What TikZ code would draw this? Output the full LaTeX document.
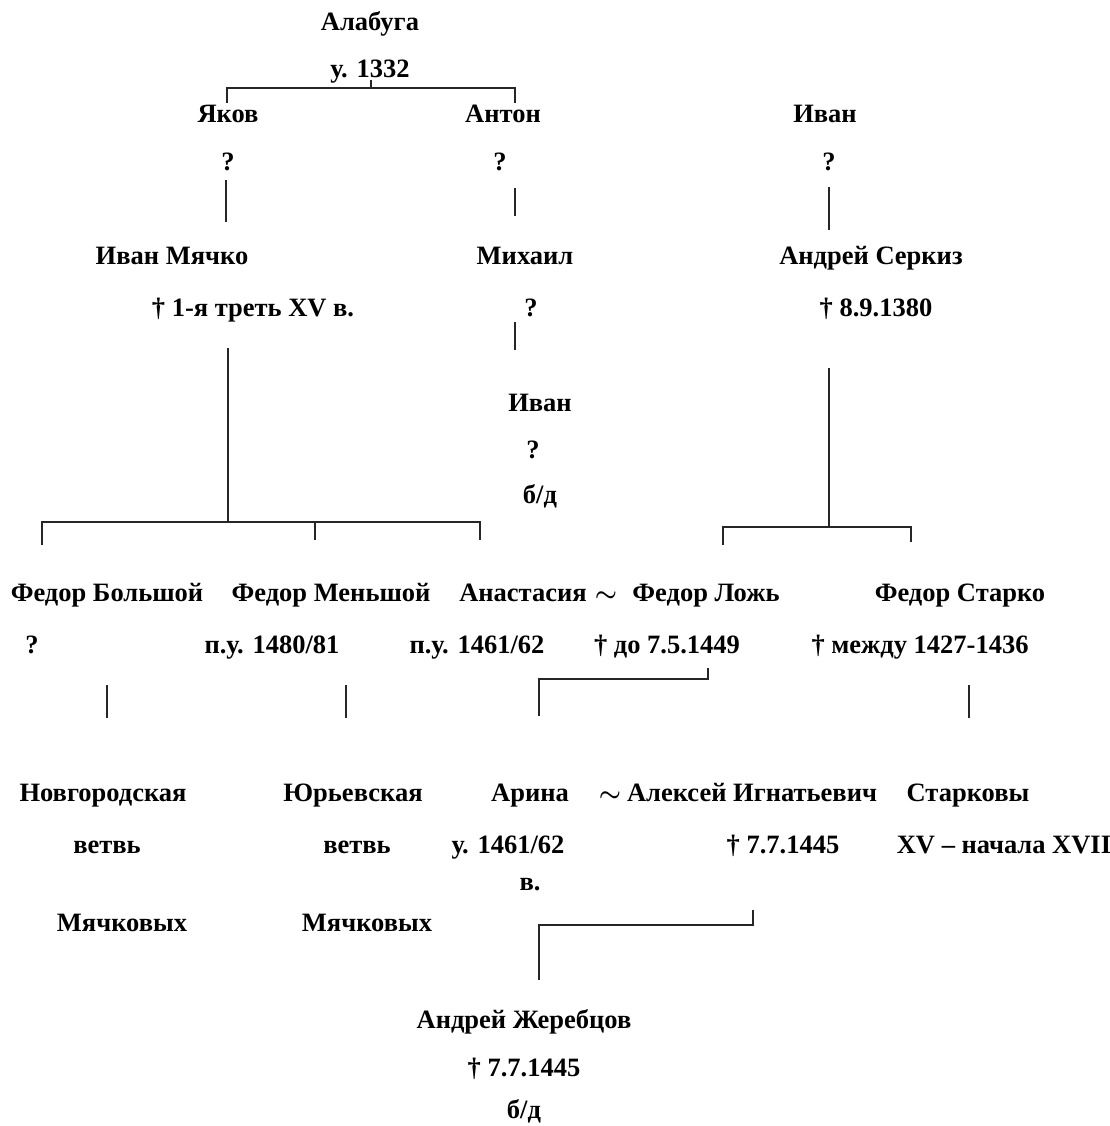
\documentclass[tikz,border=0pt]{standalone}
\usepackage{fontspec}
\setmainfont{Liberation Serif}
\usepackage{tikz}

\tikzset{
    person/.style={font=\fontsize{26.5}{30}\selectfont\bfseries\boldmath, inner sep=0pt,
        anchor=base, yshift=-8pt},
    link/.style={line width=1.6pt, draw=black!85}
}

\begin{document}
\begin{tikzpicture}[x=1pt, y=-1pt]
    \useasboundingbox (0,0) rectangle (1109,1126);

    % Founder
    \node[person] (alabuga) at (370,23) {Алабуга};
    \node[person] (alabugaD) at (370,70) {у. 1332};

    % Sons of Alabuga
    \node[person] (yakov) at (228,115) {Яков};
    \node[person] (yakovD) at (228,163) {?};
    \node[person] (anton) at (503,115) {Антон};
    \node[person] (antonD) at (500,163) {?};
    \node[person] (ivanT) at (825,115) {Иван};
    \node[person] (ivanTD) at (829,163) {?};

    % Second generation
    \node[person] (myachko) at (172,256) {Иван Мячко};
    \node[person] (myachkoD) at (253,308) {† 1-я треть XV в.};
    \node[person] (mikhail) at (525,256) {Михаил};
    \node[person] (mikhailD) at (531,308) {?};
    \node[person] (serkiz) at (871,256) {Андрей Серкиз};
    \node[person] (serkizD) at (876,308) {† 8.9.1380};

    \node[person] (ivanM) at (540,403) {Иван};
    \node[person] (ivanMD) at (533,450) {?};
    \node[person] (ivanMN) at (540,495) {б/д};

    % Third generation
    \node[person] (fbolsh) at (107,593) {Федор Большой};
    \node[person] (fbolshD) at (32,645) {?};
    \node[person] (fmensh) at (331,593) {Федор Меньшой};
    \node[person] (fmenshD) at (272,645) {п.у. 1480/81};
    \node[person] (anast) at (523,593) {Анастасия};
    \node[person] (anastD) at (477,645) {п.у. 1461/62};
    \node[person] (wed1) at (606,593) {$\sim$};
    \node[person] (flozh) at (706,593) {Федор Ложь};
    \node[person] (flozhD) at (667,645) {† до 7.5.1449};
    \node[person] (fstarko) at (960,593) {Федор Старко};
    \node[person] (fstarkoD) at (920,645) {† между 1427-1436};

    % Branches
    \node[person] (novg) at (103,793) {Новгородская};
    \node[person] (novgB) at (107,845) {ветвь};
    \node[person] (novgM) at (122,923) {Мячковых};
    \node[person] (yurev) at (353,793) {Юрьевская};
    \node[person] (yurevB) at (357,845) {ветвь};
    \node[person] (yurevM) at (367,923) {Мячковых};
    \node[person] (arina) at (530,793) {Арина};
    \node[person] (arinaD) at (508,845) {у. 1461/62};
    \node[person] (arinaV) at (530,882) {в.};
    \node[person] (wed2) at (610,793) {$\sim$};
    \node[person] (aleksey) at (752,793) {Алексей Игнатьевич};
    \node[person] (alekseyD) at (783,845) {† 7.7.1445};
    \node[person] (starkovy) at (968,793) {Старковы};
    \node[person] (starkovyD) at (1004,845) {XV – начала XVII};

    % Last generation
    \node[person] (zherebtsov) at (524,1020) {Андрей Жеребцов};
    \node[person] (zherebtsovD) at (524,1068) {† 7.7.1445};
    \node[person] (zherebtsovN) at (524,1110) {б/д};

    % Bracket under Alabuga
    \draw[link] (371,80) -- (371,88);
    \draw[link] (227,103) -- (227,88) -- (515,88) -- (515,103);

    % Single descents
    \draw[link] (226,180) -- (226,222);
    \draw[link] (515,188) -- (515,216);
    \draw[link] (829,187) -- (829,230);
    \draw[link] (515,322) -- (515,350);

    % Children of Ivan Myachko
    \draw[link] (228,348) -- (228,522);
    \draw[link] (42,545) -- (42,522) -- (480,522) -- (480,540);
    \draw[link] (315,522) -- (315,540);

    % Children of Andrey Serkiz
    \draw[link] (829,368) -- (829,527);
    \draw[link] (723,545) -- (723,527) -- (911,527) -- (911,542);

    % Lines to branches
    \draw[link] (107,685) -- (107,718);
    \draw[link] (346,685) -- (346,718);
    \draw[link] (969,685) -- (969,718);
    \draw[link] (708,668) -- (708,679) -- (539,679);
    \draw[link] (539,678) -- (539,716);

    % Arina and Aleksey
    \draw[link] (753,910) -- (753,925) -- (539,925) -- (539,980);
\end{tikzpicture}
\end{document}
